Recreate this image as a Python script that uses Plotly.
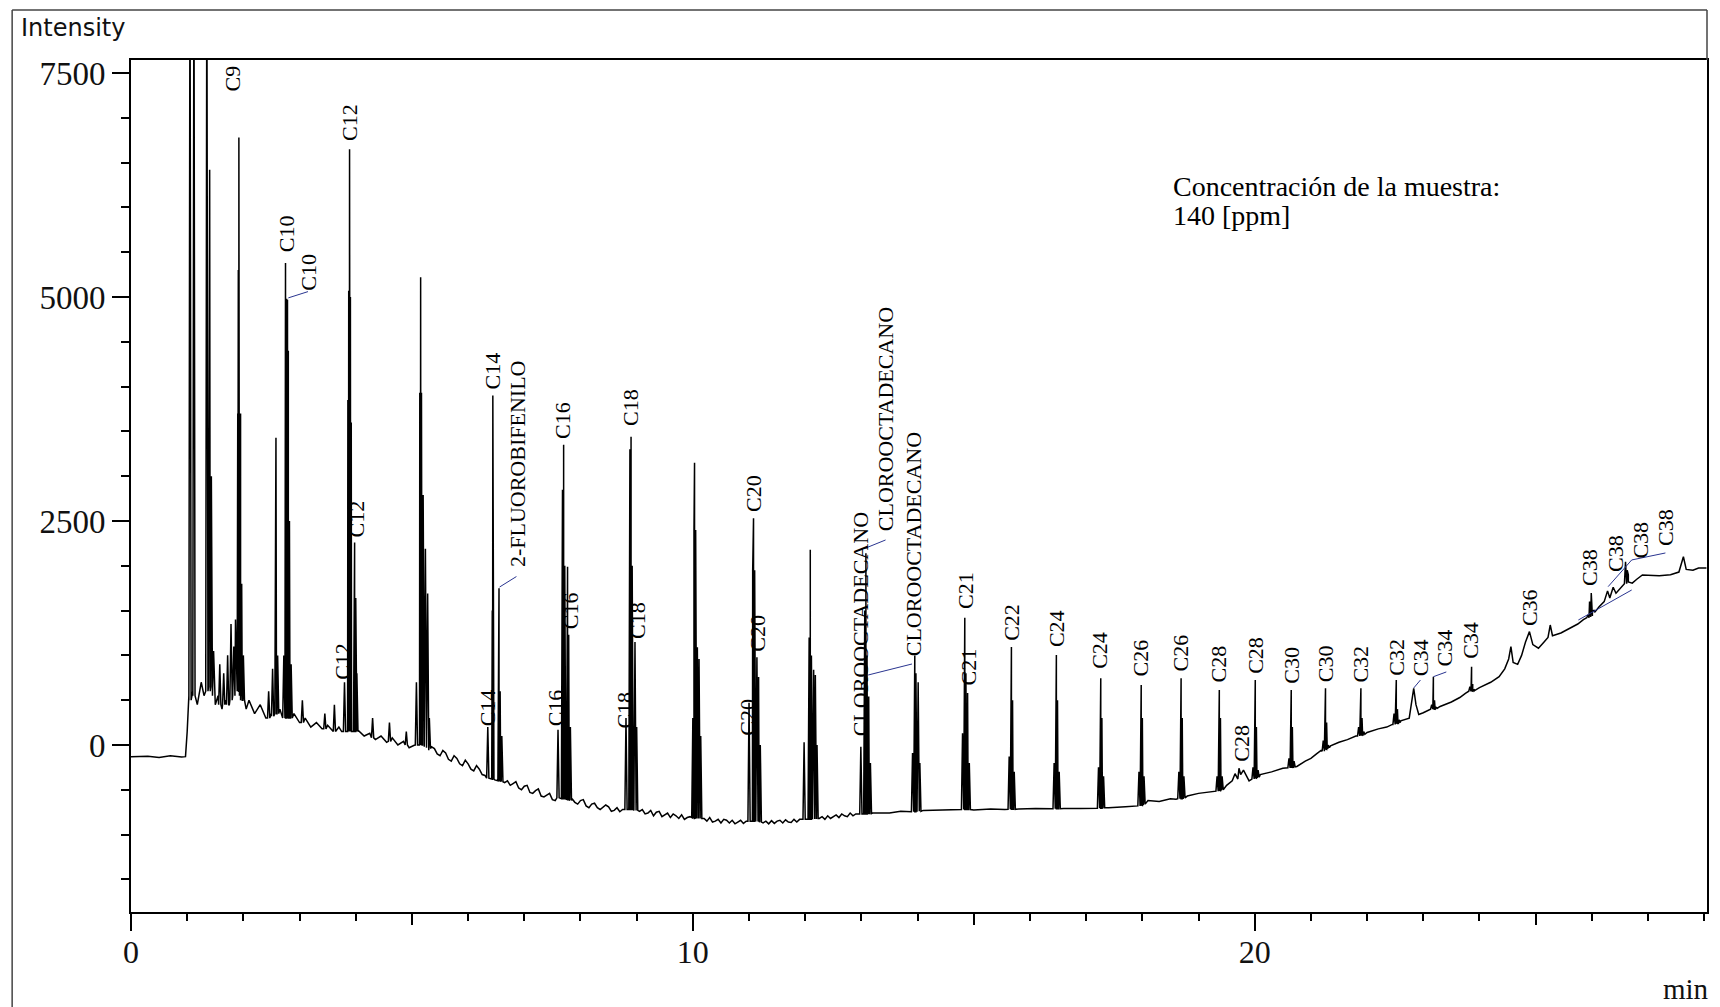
import plotly.graph_objects as go

# ---------------- data ----------------
# baseline knots: retention time [min], intensity
base_t = [0.0, 0.3, 0.5, 0.7, 0.9, 0.97, 1.0, 1.03,
          1.1, 1.18, 1.25, 1.3, 1.45, 1.5, 1.55, 1.62, 1.68, 1.75, 1.8, 1.88,
          2.0, 2.05, 2.1, 2.2, 2.3, 2.4, 2.5, 2.65, 2.7, 2.9, 3.0, 3.1, 3.2, 3.3,
          3.4, 3.5, 3.6, 3.7, 3.75, 4.05, 4.15, 4.25, 4.35, 4.45, 4.55, 4.65,
          4.75, 4.85, 4.95, 5.05, 5.3, 5.4, 5.5, 5.6, 5.7, 5.8, 5.9, 6.0, 6.1,
          6.2, 6.3, 6.65, 6.8, 6.9, 7.0, 7.1, 7.2, 7.3, 7.4, 7.5, 7.9, 8.0, 8.1,
          8.2, 8.3, 8.5, 8.6, 8.75, 9.05, 9.2, 9.35, 9.5, 9.7, 9.9, 10.2, 10.4,
          10.6, 10.8, 10.95, 11.25, 11.5, 11.7, 11.9, 12.25, 12.5, 12.7, 12.9,
          13.2, 13.5, 13.7, 13.85, 14.1, 14.4, 14.7, 15.0, 15.3, 15.55, 15.8,
          16.1, 16.35, 16.6, 16.9, 17.15, 17.4, 17.7, 17.9, 18.1, 18.3, 18.5,
          18.6, 18.8, 19.0, 19.2, 19.3, 19.5, 19.6, 19.65, 19.7, 19.72, 19.75,
          19.8, 19.9, 20.1, 20.3, 20.5, 20.75, 20.9, 21.0, 21.1, 21.18, 21.35,
          21.5, 21.65, 21.8, 22.0, 22.2, 22.35, 22.45, 22.6, 22.75, 22.8, 22.83,
          22.87, 22.92, 23.0, 23.1, 23.3, 23.5, 23.65, 23.75, 24.0, 24.2, 24.35,
          24.45, 24.52, 24.56, 24.6, 24.68, 24.75, 24.82, 24.89, 24.95, 25.05,
          25.15, 25.22, 25.26, 25.3, 25.45, 25.6, 25.75, 25.85, 26.05, 26.13,
          26.22, 26.28, 26.32, 26.38, 26.43, 26.55, 26.65, 26.72, 26.8, 26.9,
          27.2, 27.4, 27.55, 27.63, 27.68, 27.8, 27.9, 28.04]
base_i = [-130, -125, -140, -120, -135, -130, 150, 550,
          600, 450, 700, 550, 650, 450, 550, 400, 500, 450, 600, 700,
          600, 400, 500, 350, 450, 300, 350, 400, 300, 350, 250, 300, 200, 250,
          180, 220, 150, 200, 150, 160, 100, 130, 60, 100, 30, 80,
          0, 40, -30, 0, -60, -40, -120, -90, -180, -150, -230, -210, -290,
          -270, -340, -420, -430, -480, -460, -530, -510, -570, -560, -610, -640, -620, -680,
          -660, -700, -690, -730, -720, -740, -760, -750, -780, -790, -810, -820, -850,
          -840, -860, -850, -870, -850, -860, -830, -820, -800, -790, -770,
          -760, -760, -740, -745, -730, -725, -720, -725, -715, -720, -715,
          -710, -715, -710, -710, -705, -700, -690, -680, -620, -630, -600,
          -605, -570, -540, -520, -510, -450, -400, -320, -380, -260, -330,
          -280, -400, -330, -300, -260, -240, -180, -150, -100, -60, -10,
          30, 60, 100, 140, 180, 200, 230, 270, 300, 500, 633,
          450, 340, 360, 390, 430, 480, 530, 577, 640, 700, 762,
          850, 960, 1097, 920, 900, 1000, 1150, 1265, 1120, 1080,
          1150, 1200, 1339, 1220, 1250, 1300, 1350, 1400, 1500, 1543,
          1600, 1720, 1640, 1760, 1694, 1780, 1900, 1806, 1850, 1897,
          1890, 1900, 1930, 2101, 1960, 1950, 1975, 1975]

# small baseline wiggles (noise) read in the 5-13 min stretch
wiggle_t = [5.35, 5.45, 5.55, 5.65, 5.75, 5.85, 5.95, 6.05, 6.15, 6.25,
            6.7, 6.75, 6.85, 6.95, 7.05, 7.15, 7.25, 7.35, 7.45, 7.55,
            7.85, 7.95, 8.05, 8.15, 8.25, 8.35, 8.45, 8.55, 8.65, 8.7,
            9.1, 9.15, 9.25, 9.3, 9.4, 9.45, 9.55, 9.6, 9.65, 9.75, 9.8, 9.85, 9.95,
            10.25, 10.3, 10.35, 10.45, 10.5, 10.55, 10.65, 10.7, 10.75, 10.85, 10.9,
            11.3, 11.35, 11.4, 11.45, 11.55, 11.6, 11.65, 11.75, 11.8, 11.85,
            12.3, 12.35, 12.4, 12.45, 12.55, 12.6, 12.65, 12.75, 12.8, 12.85]
wiggle_i = [-20, -100, -60, -160, -120, -210, -170, -270, -230, -330,
            -400, -450, -410, -500, -450, -540, -490, -580, -540, -620,
            -600, -660, -610, -700, -650, -720, -670, -740, -700, -745,
            -720, -770, -730, -790, -740, -800, -760, -810, -770, -820, -780, -830, -800,
            -850, -810, -860, -830, -870, -830, -870, -840, -880, -840, -875,
            -850, -880, -845, -875, -840, -870, -835, -865, -830, -860,
            -800, -830, -790, -820, -780, -810, -770, -800, -760, -790]

# peak apexes: time, apex intensity, foot intensity
peak_t = [1.05, 1.12, 1.35, 1.40, 1.43,
          1.47, 1.58, 1.65, 1.72, 1.78, 1.83, 1.86,
          1.90, 1.91, 1.92, 1.935, 1.95, 1.97, 2.0,
          2.45, 2.52, 2.58, 2.61,
          2.72, 2.75, 2.77, 2.785, 2.80, 2.82, 2.85,
          3.05, 3.45, 3.62,
          3.80, 3.86, 3.875, 3.89, 3.905, 3.92, 3.98, 4.00, 4.02,
          4.3, 4.6, 4.9,
          5.08, 5.14, 5.155, 5.17, 5.20, 5.24, 5.28, 5.31,
          6.35, 6.43, 6.44, 6.455, 6.55, 6.57, 6.6,
          7.60, 7.68, 7.70, 7.72, 7.77, 7.79, 7.82,
          8.81, 8.88, 8.90, 8.92, 8.97, 9.0,
          10.0, 10.02, 10.03, 10.05, 10.08, 10.11, 10.14,
          11.0, 11.065, 11.08, 11.10, 11.14, 11.17, 11.2,
          11.98, 12.07, 12.09, 12.11, 12.15, 12.18, 12.21,
          12.99, 13.06, 13.08, 13.10, 13.13, 13.16,
          13.91, 13.95, 13.97, 14.01, 14.04,
          14.80, 14.84, 14.86, 14.89, 14.92,
          15.63, 15.67, 15.69, 15.72,
          16.43, 16.47, 16.49, 16.52,
          17.22, 17.26, 17.28, 17.31,
          17.94, 17.98, 18.0, 18.03,
          18.65, 18.69, 18.71, 18.74,
          19.33, 19.37, 19.39, 19.42,
          19.97, 20.01, 20.03, 20.06,
          20.61, 20.65, 20.67, 20.70,
          21.22, 21.26, 21.28, 21.31,
          21.85, 21.89, 21.91, 21.94,
          22.48, 22.52, 22.54, 22.57,
          23.15, 23.18, 23.20, 23.23,
          23.83, 23.86, 23.88, 23.9,
          25.93, 25.96, 25.99, 26.03,
          26.6, 26.63]
peak_top = [9000, 9000, 9000, 6420, 3000,
            1050, 900, 800, 1000, 1350, 1100, 1400,
            3700, 5300, 6780, 5100, 3700, 1800, 1000,
            600, 850, 3430, 1000,
            1000, 5380, 4980, 4970, 4400, 2500, 900,
            500, 350, 450,
            700, 3850, 5070, 6650, 5000, 3600, 2260, 1640, 800,
            300, 250, 150,
            700, 3930, 5220, 3930, 2790, 2190, 1690, 300,
            200, 1500, 3900, 2000, 1750, 600, 100,
            170, 2850, 3350, 2000, 1990, 1230, 200,
            300, 3300, 3440, 2000, 1150, 200,
            300, 2400, 3150, 2400, 1090, 960, 100,
            470, 1950, 2530, 1950, 980, 760, 0,
            30, 1200, 2180, 1000, 840, 780, 0,
            -20, 1500, 2140, 1000, 540, -200,
            -90, 1000, 800, 700, -200,
            130, 1420, 800, 580, -200,
            -130, 1094, 500, -300,
            -200, 1004, 500, -300,
            -250, 744, 300, -350,
            -300, 670, 300, -350,
            -300, 744, 300, -350,
            -350, 614, 300, -350,
            -250, 725, 200, -280,
            -150, 614, 200, -180,
            50, 633, 250, 0,
            200, 633, 300, 150,
            350, 725, 400, 280,
            450, 762, 500, 420,
            650, 874, 680, 620,
            1450, 1600, 1696, 1500,
            2046, 1950]
peak_foot = [500, 550, 600, 650, 600,
             550, 450, 450, 450, 500, 550, 600,
             600, 600, 600, 600, 550, 500, 500,
             300, 320, 350, 350,
             300, 300, 300, 300, 300, 300, 300,
             250, 180, 150,
             150, 150, 150, 150, 150, 150, 150, 150, 150,
             80, 40, 0,
             0, 0, 0, 0, 0, -20, -30, -40,
             -370, -380, -380, -390, -400, -400, -410,
             -590, -600, -600, -600, -610, -610, -620,
             -720, -720, -720, -720, -730, -730,
             -810, -815, -815, -820, -820, -820, -820,
             -850, -850, -850, -850, -855, -855, -860,
             -830, -830, -830, -830, -825, -825, -820,
             -770, -770, -770, -765, -765, -765,
             -745, -745, -745, -740, -740,
             -720, -720, -720, -720, -720,
             -718, -718, -718, -718,
             -712, -712, -712, -712,
             -705, -705, -705, -700,
             -680, -675, -670, -660,
             -600, -600, -600, -590,
             -515, -510, -505, -500,
             -380, -370, -365, -360,
             -255, -250, -248, -245,
             -70, -50, -45, -30,
             100, 110, 115, 120,
             230, 240, 245, 250,
             400, 400, 405, 410,
             600, 600, 605, 610,
             1420, 1430, 1440, 1480,
             1800, 1820]

# peak labels: text, time, intensity at the label's lower end
label_text = ["C9", "C10", "C10", "C12", "C12", "C12", "C14", "2-FLUOROBIFENILO", "C14",
              "C16", "C16", "C16", "C18", "C18", "C18", "C20", "C20", "C20",
              "CLOROOCTADECANO", "CLOROOCTADECANO", "CLOROOCTADECANO",
              "C21", "C21", "C22", "C24", "C24", "C26", "C26", "C28", "C28", "C28",
              "C30", "C30", "C32", "C32", "C34", "C34", "C34", "C36",
              "C38", "C38", "C38", "C38"]
label_t = [1.81, 2.77, 3.16, 3.89, 4.02, 3.77, 6.44, 6.88, 6.35,
           7.69, 7.82, 7.56, 8.89, 9.01, 8.78, 11.08, 11.15, 10.97,
           13.0, 13.43, 13.92,
           14.84, 14.90, 15.67, 16.47, 17.24, 17.96, 18.67, 19.36, 19.76, 20.01,
           20.65, 21.26, 21.89, 22.52, 22.94, 23.37, 23.84, 24.88,
           25.97, 26.42, 26.86, 27.31]
label_i = [7280, 5490, 5060, 6730, 2310, 720, 3960, 1975, 200,
           3400, 1280, 200, 3550, 1170, 170, 2590, 1030, 90,
           90, 2370, 980,
           1510, 650, 1150, 1080, 840, 750, 815, 690, -200, 780,
           670, 690, 690, 760, 760, 860, 950, 1320,
           1760, 1920, 2065, 2210]

# leader lines from peak to offset label: t0, i0, t1, i1
leader_t0 = [2.80, 6.56, 13.08, 13.12, 22.83, 23.18, 26.29, 25.76, 26.71]
leader_i0 = [4990, 1763, 2199, 781, 636, 762, 1767, 1395, 2065]
leader_t1 = [3.15, 6.86, 13.43, 13.90, 22.95, 23.41, 26.71, 26.71, 27.31]
leader_i1 = [5060, 1880, 2288, 904, 725, 815, 2065, 1730, 2143]

x_range = [0, 28.05]
y_range = [-1864, 7645]
x_major = [0, 5, 10, 15, 20, 25]
x_major_text = ["0", "", "10", "", "20", ""]
x_long = [0, 10, 20]

# ---------------- build the trace ----------------
HW = 0.02
pts = list(zip(base_t, base_i)) + list(zip(wiggle_t, wiggle_i))
for t, top, foot in zip(peak_t, peak_top, peak_foot):
    pts += [(t - HW, foot), (t, top), (t + HW, foot)]
pts.sort(key=lambda p: p[0])
xs = [p[0] for p in pts]
ys = [p[1] for p in pts]

# page body has an 8 px margin; positions below are screenshot pixels
OFF = 8
W, H = 1712, 999
L, T = 131 - OFF, 60 - OFF
R = W - (1709 - OFF)
B = H - (912 - OFF)
PW, PH = W - L - R, H - T - B


def px(x):
    return (x - OFF - L) / PW


def py(y):
    return (H - B - (y - OFF)) / PH


fig = go.Figure()
fig.add_trace(go.Scatter(x=xs, y=ys, mode="lines",
                         line=dict(color="black", width=1.5),
                         hoverinfo="skip", showlegend=False))
# invisible trace for the overlay x axis that carries the long ticks
fig.add_trace(go.Scatter(x=x_range, y=[None, None], xaxis="x2", mode="lines",
                         showlegend=False, hoverinfo="skip"))

serif = "Liberation Serif"
ann = []
for txt, t, i in zip(label_text, label_t, label_i):
    ann.append(dict(x=t, y=i, xref="x", yref="y", text=txt, showarrow=False,
                    textangle=-90, xanchor="center", yanchor="bottom",
                    font=dict(family=serif, size=22, color="black"),
                    borderpad=0))

ann.append(dict(x=px(19), y=py(28), xref="paper", yref="paper", text="Intensity",
                showarrow=False, xanchor="left", yanchor="middle",
                font=dict(family="DejaVu Sans", size=24, color="#111")))
ann.append(dict(x=px(1713), y=py(989), xref="paper", yref="paper", text="min",
                showarrow=False, xanchor="right", yanchor="middle",
                font=dict(family=serif, size=29, color="#111")))
ann.append(dict(x=px(1172), y=py(186), xref="paper", yref="paper",
                text="Concentración de la muestra:", showarrow=False,
                xanchor="left", yanchor="middle",
                font=dict(family=serif, size=28, color="black")))
ann.append(dict(x=px(1172), y=py(216), xref="paper", yref="paper",
                text="140 [ppm]", showarrow=False,
                xanchor="left", yanchor="middle",
                font=dict(family=serif, size=28, color="black")))

shapes = []
for a, b, c, d in zip(leader_t0, leader_i0, leader_t1, leader_i1):
    shapes.append(dict(type="line", xref="x", yref="y", x0=a, y0=b, x1=c, y1=d,
                       line=dict(color="#2a3590", width=1)))
# outer frame
frame = dict(color="#444", width=1.5)
shapes.append(dict(type="line", xref="paper", yref="paper",
                   x0=px(12), y0=py(10), x1=px(12), y1=py(1010), line=frame))
shapes.append(dict(type="line", xref="paper", yref="paper",
                   x0=px(12), y0=py(10), x1=1, y1=py(10), line=frame))
shapes.append(dict(type="line", xref="paper", yref="paper",
                   x0=1, y0=py(10), x1=1, y1=1, line=frame))

fig.update_layout(
    width=W, height=H,
    margin=dict(l=L, r=R, t=T, b=B),
    paper_bgcolor="white", plot_bgcolor="white",
    annotations=ann, shapes=shapes,
    xaxis=dict(range=x_range, showgrid=False, zeroline=False,
               showline=True, linecolor="black", linewidth=2, mirror=True,
               tickmode="array", tickvals=x_major, ticktext=x_major_text,
               ticks="outside", ticklen=11, tickwidth=1.5, tickcolor="black",
               tickfont=dict(family=serif, size=32, color="#111"),
               minor=dict(tickmode="linear", tick0=0, dtick=1, ticks="outside",
                          ticklen=7, tickwidth=1.5, tickcolor="black", showgrid=False)),
    xaxis2=dict(range=x_range, overlaying="x", anchor="y", side="bottom",
                showgrid=False, zeroline=False, showline=False,
                tickmode="array", tickvals=x_long, showticklabels=False,
                ticks="outside", ticklen=18, tickwidth=1.5, tickcolor="black"),
    yaxis=dict(range=y_range, showgrid=False, zeroline=False,
               showline=True, linecolor="black", linewidth=2, mirror=True,
               tickmode="linear", tick0=0, dtick=2500, ticks="outside",
               ticklen=17, tickwidth=1.5, tickcolor="black",
               tickfont=dict(family=serif, size=33, color="#111"),
               minor=dict(tickmode="linear", tick0=0, dtick=500, ticks="outside",
                          ticklen=8, tickwidth=1.5, tickcolor="black", showgrid=False)),
)

fig.write_html("out.html")
